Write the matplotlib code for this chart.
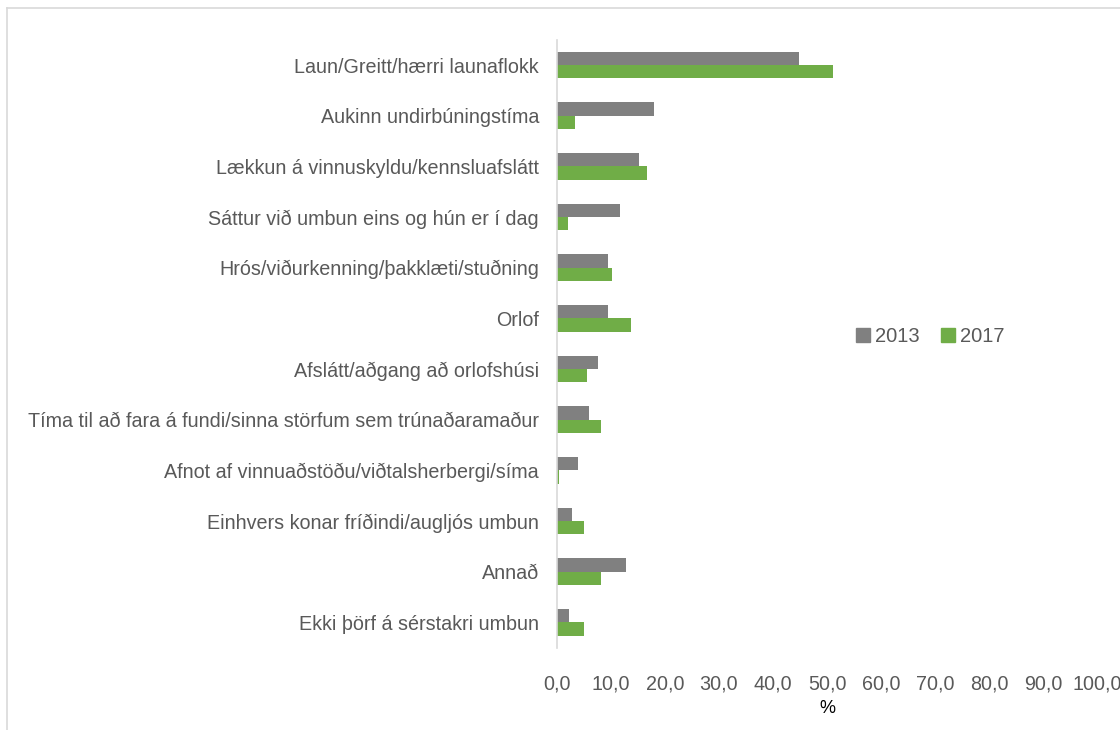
import numpy as np
import matplotlib
matplotlib.use('Agg')
import matplotlib.pyplot as plt
from matplotlib.lines import Line2D

# flokkar (efst til neðst)
categories = [
    'Laun/Greitt/hærri launaflokk',
    'Aukinn undirbúningstíma',
    'Lækkun á vinnuskyldu/kennsluafslátt',
    'Sáttur við umbun eins og hún er í dag',
    'Hrós/viðurkenning/þakklæti/stuðning',
    'Orlof',
    'Afslátt/aðgang að orlofshúsi',
    'Tíma til að fara á fundi/sinna störfum sem trúnaðaramaður',
    'Afnot af vinnuaðstöðu/viðtalsherbergi/síma',
    'Einhvers konar fríðindi/augljós umbun',
    'Annað',
    'Ekki þörf á sérstakri umbun',
]
vals_2013 = [44.9, 17.9, 15.2, 11.7, 9.4, 9.4, 7.5, 6.0, 3.8, 2.8, 12.7, 2.3]
vals_2017 = [51.2, 3.4, 16.7, 2.0, 10.1, 13.7, 5.5, 8.1, 0.4, 5.0, 8.1, 5.0]
xticks = np.arange(0, 101, 10)
xticklabels = [('%.1f' % v).replace('.', ',') for v in xticks]

plt.rcParams['font.family'] = ['Liberation Sans', 'DejaVu Sans']
txt = '#595959'
grey = '#808080'
green = '#70ad47'

fig = plt.figure(figsize=(11.2, 7.3), dpi=100)
ax = fig.add_axes([557 / 1120, 82.3 / 730, 540 / 1120, 608 / 730])

y = np.arange(len(categories))
h = 0.263
ax.barh(y - h / 2, vals_2013, height=h, color=grey, label='2013')
ax.barh(y + h / 2, vals_2017, height=h, color=green, label='2017')

ax.set_ylim(len(categories) - 0.5, -0.5)
ax.set_xlim(0, 100)
ax.set_yticks(y)
ax.set_yticklabels(categories, fontsize=14.2, color=txt)
ax.set_xticks(xticks)
ax.set_xticklabels(xticklabels, fontsize=14.2, color=txt)
ax.tick_params(axis='both', length=0)
ax.tick_params(axis='y', pad=13)
ax.tick_params(axis='x', pad=19)
for s in ['top', 'right', 'bottom']:
    ax.spines[s].set_visible(False)
ax.spines['left'].set_color('#d9d9d9')
ax.spines['left'].set_linewidth(1.2)
ax.set_xlabel('%', fontsize=13, color='black', labelpad=5)

handles = [Line2D([], [], marker='s', ls='', color=grey, markersize=10),
           Line2D([], [], marker='s', ls='', color=green, markersize=10)]
fig.legend(handles, ['2013', '2017'], loc='center', bbox_to_anchor=(930 / 1120, 1 - 337 / 730),
           ncol=2, frameon=False, fontsize=14.5, labelcolor=txt,
           handletextpad=0.2, columnspacing=1.0, handlelength=0.8)

# ytri rammi
fig.add_artist(Line2D([7 / 1120, 7 / 1120], [0, 1 - 8 / 730], color='#d9d9d9', lw=1.2))
fig.add_artist(Line2D([7 / 1120, 1], [1 - 8 / 730, 1 - 8 / 730], color='#d9d9d9', lw=1.2))

fig.savefig('out.png', dpi=100)
